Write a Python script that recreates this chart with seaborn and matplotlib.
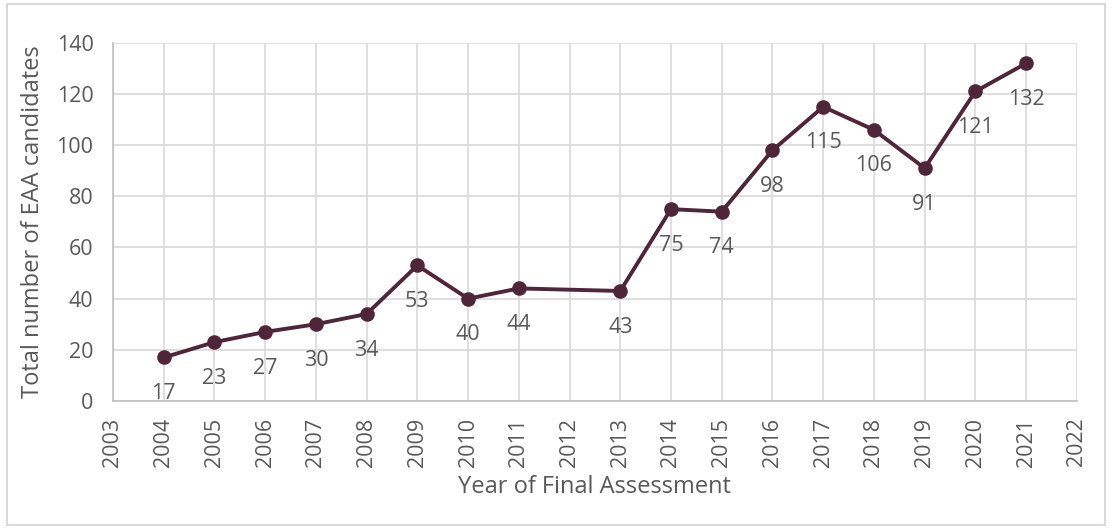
import pandas as pd
import matplotlib.pyplot as plt
import seaborn as sns
from matplotlib.patches import Rectangle

# data (no value for 2012)
years = [2004, 2005, 2006, 2007, 2008, 2009, 2010, 2011, 2013, 2014,
         2015, 2016, 2017, 2018, 2019, 2020, 2021]
candidates = [17, 23, 27, 30, 34, 53, 40, 44, 43, 75,
              74, 98, 115, 106, 91, 121, 132]
xticks = list(range(2003, 2023))
yticks = [0, 20, 40, 60, 80, 100, 120, 140]

df = pd.DataFrame({'Year': years, 'Candidates': candidates})

sns.set_style('white')
plt.rcParams['font.family'] = ['Open Sans', 'DejaVu Sans']

line_color = '#4E2539'
text_color = '#595959'
grid_color = '#D9D9D9'

fig = plt.figure(figsize=(11.13, 5.29), dpi=100)
ax = fig.add_axes([0.1015, 0.242, 0.866, 0.677])

sns.lineplot(data=df, x='Year', y='Candidates', ax=ax, color=line_color,
             linewidth=2.8, marker='o', markersize=10.5, markeredgewidth=0)

for x, y in zip(years, candidates):
    ax.annotate(str(y), (x, y), xytext=(0, -26), textcoords='offset points',
                ha='center', va='center', fontsize=15.5, color=text_color)

ax.set_xlim(2003, 2022)
ax.set_ylim(0, 140)
ax.set_xticks(xticks)
ax.set_yticks(yticks)
ax.set_xticklabels([str(t) for t in xticks], rotation=90)
ax.tick_params(axis='both', length=0, labelsize=15.5, labelcolor=text_color)
ax.tick_params(axis='y', pad=14)
ax.tick_params(axis='x', pad=12)
ax.grid(True, color=grid_color, linewidth=1.2)
ax.set_axisbelow(True)
for side in ['top', 'right']:
    ax.spines[side].set_visible(False)
for side in ['left', 'bottom']:
    ax.spines[side].set_color('#BFBFBF')
    ax.spines[side].set_linewidth(1.2)

ax.set_xlabel('Year of Final Assessment', fontsize=17, color=text_color, labelpad=6)
ax.set_ylabel('Total number of EAA candidates', fontsize=17, color=text_color, labelpad=8)

# light frame around the whole chart
fig.patches.append(Rectangle((7 / 1113, 4 / 529), 1098 / 1113, 521 / 529,
                             transform=fig.transFigure, fill=False,
                             edgecolor=grid_color, linewidth=1.5))

fig.savefig('out.png', dpi=100)
